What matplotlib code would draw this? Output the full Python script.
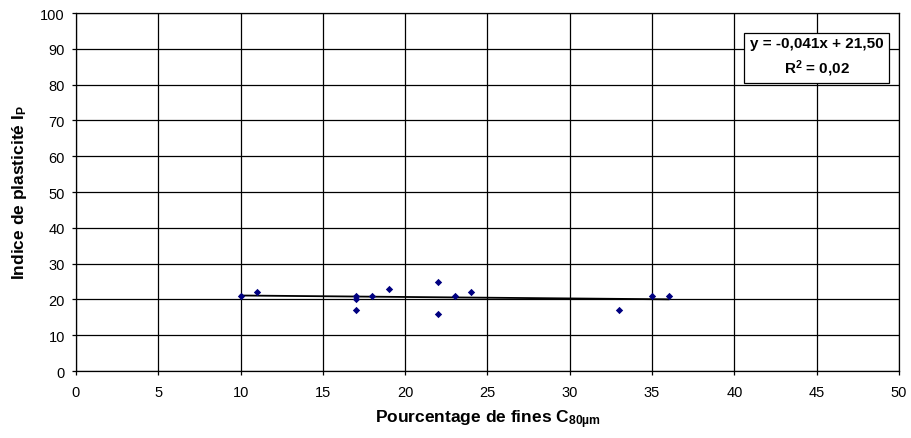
import matplotlib
matplotlib.use("Agg")
import matplotlib.pyplot as plt
import numpy as np

plt.rcParams['font.family'] = ['Liberation Sans', 'DejaVu Sans']
plt.rcParams['mathtext.fontset'] = 'custom'
plt.rcParams['mathtext.rm'] = 'Liberation Sans'
plt.rcParams['mathtext.bf'] = 'Liberation Sans:bold'
plt.rcParams['mathtext.it'] = 'Liberation Sans:italic'

# Fines percentage vs plasticity index
fines = [10, 11, 17, 17, 17, 18, 19, 22, 22, 23, 24, 33, 35, 36]
plasticity = [21, 22, 21, 20, 17, 21, 23, 25, 16, 21, 22, 17, 21, 21]

# Linear trend
slope = -0.041
intercept = 21.50
r2 = 0.02

xticks = list(range(0, 51, 5))
yticks = list(range(0, 101, 10))

fig = plt.figure(figsize=(9.12, 4.39), dpi=100)
ax = fig.add_axes([0.0833, 0.1526, 0.9024, 0.8155])

ax.set_xlim(0, 50)
ax.set_ylim(0, 100)
ax.set_xticks(xticks)
ax.set_yticks(yticks)
ax.grid(True, color='black', linewidth=0.9)
ax.set_axisbelow(True)
for s in ax.spines.values():
    s.set_color('black')
    s.set_linewidth(0.9)
ax.tick_params(direction='out', length=3, width=0.9, labelsize=10.5, colors='black')
ax.tick_params(axis='x', pad=7)
ax.tick_params(axis='y', pad=5)

xfit = np.array([min(fines), max(fines)])
ax.plot(xfit, slope * xfit + intercept, color='black', linewidth=1.3, zorder=3)
ax.scatter(fines, plasticity, marker='D', s=14, color='#000080', zorder=4, linewidths=0)

ax.set_xlabel(r'Pourcentage de fines C$_{\mathbf{80µm}}$', fontsize=12.5, fontweight='bold', labelpad=6)
ax.set_ylabel(r'Indice de plasticité I$_{\mathbf{P}}$', fontsize=12.5, fontweight='bold', labelpad=8)

eq = "y = -0,041x + 21,50\n" + r"R$^{\mathbf{2}}$ = 0,02"
ax.text(0.9, 0.877, eq, transform=ax.transAxes, ha='center', va='center',
        fontsize=11, fontweight='bold', linespacing=1.5,
        bbox=dict(boxstyle='square,pad=0.35', facecolor='white', edgecolor='black', linewidth=0.9),
        zorder=5)

fig.savefig('out.png', dpi=100)
